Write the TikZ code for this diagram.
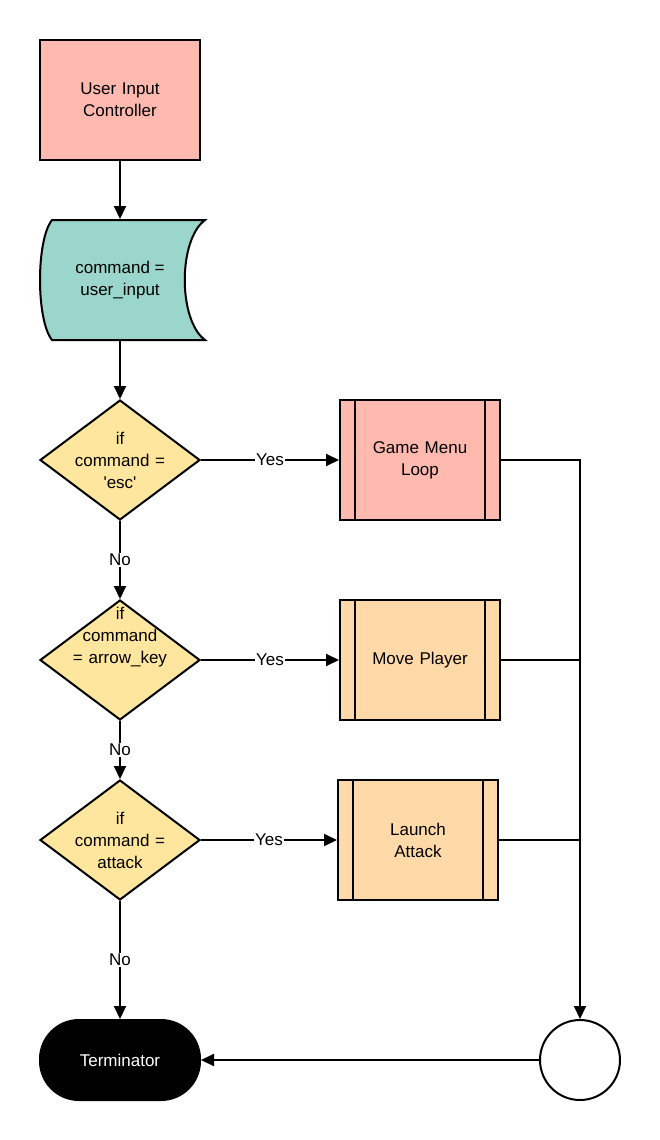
\documentclass[tikz,border=0pt]{standalone}
\usepackage{fontspec}
\setmainfont{Liberation Sans}
\usetikzlibrary{shapes.geometric,arrows.meta}
\definecolor{cpink}{HTML}{FFB9AF}
\definecolor{cteal}{HTML}{9AD6CB}
\definecolor{cyell}{HTML}{FFE69E}
\definecolor{corng}{HTML}{FFDAA8}
\begin{document}
\begin{tikzpicture}[x=1pt,y=-1pt,line width=2pt,
  every node/.style={font=\fontsize{17}{22}\selectfont},
  boxnode/.style={draw,rectangle,minimum width=160pt,minimum height=120pt,inner sep=0pt,align=center,text width=140pt},
  decision/.style={draw,diamond,fill=cyell,minimum width=160pt,minimum height=120pt,aspect=1.333,inner sep=0pt},
  dtext/.style={align=center,text width=120pt,inner sep=0pt},
  arr/.style={-{Triangle[length=13pt,width=12pt]}},
  lbl/.style={fill=white,inner sep=1.5pt}]
\useasboundingbox (0,0) rectangle (660,1140);
% User input controller
\node[boxnode,fill=cpink] (uic) at (120,100) {User Input\\Controller};
% stored data
\filldraw[fill=cteal] (52,220) .. controls (36,240) and (36,320) .. (52,340) -- (205,340)
  .. controls (178,320) and (178,240) .. (205,220) -- cycle;
\node[rectangle,minimum width=160pt,minimum height=120pt,inner sep=0pt,align=center] (data) at (120,280) {command =\\user\_input};
% decisions
\node[decision] (d1) at (120,460) {};
\node[dtext] (d1t) at (120,460) {if\\command =\\\textquotesingle esc\textquotesingle};
\node[decision] (d2) at (120,660) {};
\node[dtext] (d2t) at ([yshift=23pt]d2.center) {if\\command\\= arrow\_key};
\node[decision] (d3) at (120,840) {};
\node[dtext] (d3t) at (120,840) {if\\command =\\attack};
% processes
\node[boxnode,fill=cpink] (gm) at (420,460) {Game Menu\\Loop};
\node[boxnode,fill=corng] (mp) at (420,660) {Move Player};
\node[boxnode,fill=corng] (la) at (418,840) {Launch\\Attack};
\foreach \n in {gm,mp,la}{
  \draw ([xshift=16pt]\n.north west) -- ([xshift=16pt]\n.south west);
  \draw ([xshift=-16pt]\n.north east) -- ([xshift=-16pt]\n.south east);
}
% terminator and connector circle
\node[draw,fill=black,rectangle,rounded corners=39pt,minimum width=160pt,minimum height=80pt,text=white] (term) at (120,1060) {Terminator};
\node[draw,circle,fill=white,minimum size=80pt,inner sep=0pt] (circ) at (580,1060) {};
% connectors
\draw[arr] (uic.south) -- (data.north);
\draw[arr] (data.south) -- (d1.north);
\draw[arr] (d1.south) -- node[lbl]{No} (d2.north);
\draw[arr] (d2.south) -- node[lbl]{No} (d3.north);
\draw[arr] (d3.south) -- node[lbl]{No} (term.north);
\draw[arr] (d1.east) -- node[lbl]{Yes} (gm.west);
\draw[arr] (d2.east) -- node[lbl]{Yes} (mp.west);
\draw[arr] (d3.east) -- node[lbl]{Yes} (la.west);
\draw[arr] (gm.east) -| (circ.north);
\draw (mp.east) -- (mp.east -| circ.north);
\draw (la.east) -- (la.east -| circ.north);
\draw[arr] (circ.west) -- (term.east);
\end{tikzpicture}
\end{document}
